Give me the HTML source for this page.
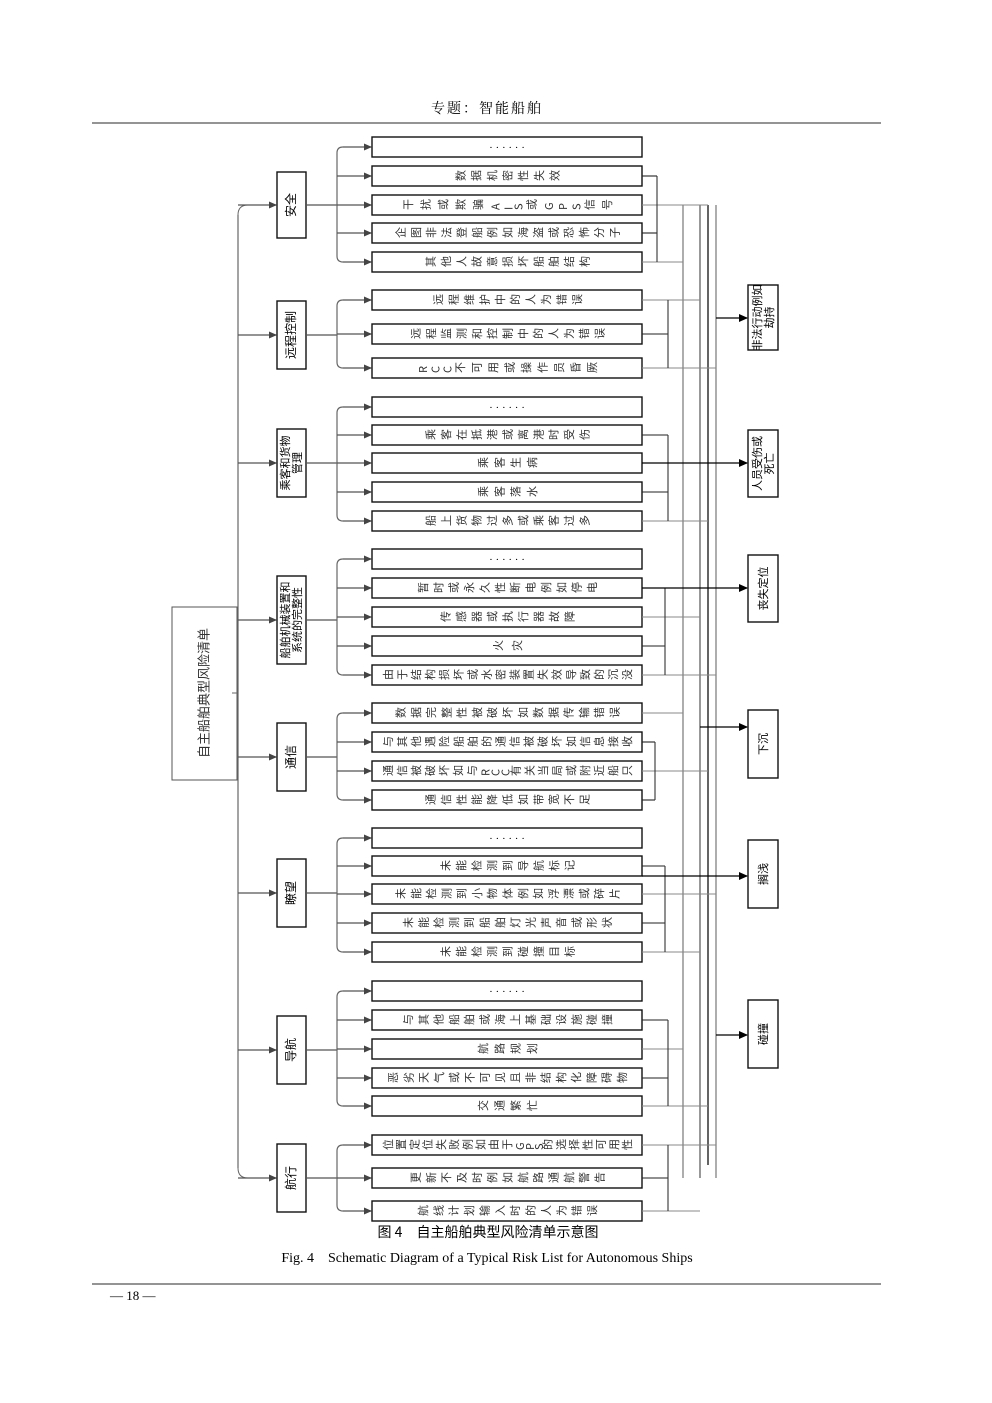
<!DOCTYPE html>
<html><head><meta charset="utf-8"><style>
html,body{margin:0;padding:0;background:#fff;}
body{width:992px;height:1403px;position:relative;overflow:hidden;font-family:"Liberation Serif","Noto Serif CJK SC",serif;}
svg{position:absolute;left:0;top:0;}
</style></head><body>
<svg id="s" width="992" height="1403" viewBox="0 0 992 1403" xmlns="http://www.w3.org/2000/svg">
<defs><marker id="a" markerWidth="8" markerHeight="8" refX="7" refY="4" orient="auto" markerUnits="userSpaceOnUse"><path d="M0,0.5 L8,4 L0,7.5z" fill="#444"/></marker>
<marker id="b" markerWidth="9" markerHeight="9" refX="8" refY="4.5" orient="auto" markerUnits="userSpaceOnUse"><path d="M0,0.5 L9,4.5 L0,8.5z" fill="#000"/></marker></defs>
<text x="487" y="113" font-size="14" text-anchor="middle" font-family="'Noto Serif CJK SC',serif" letter-spacing="2">专题：智能船舶</text>
<line x1="92" y1="123" x2="881" y2="123" stroke="#555" stroke-width="1.3"/>
<g id="g"></g>
<text x="488" y="1237" font-size="14" text-anchor="middle" font-family="'Noto Sans CJK SC',sans-serif">图 4　自主船舶典型风险清单示意图</text>
<text x="487" y="1262" font-size="14" text-anchor="middle" font-family="'Liberation Serif',serif">Fig. 4　Schematic Diagram of a Typical Risk List for Autonomous Ships</text>
<line x1="92" y1="1284" x2="881" y2="1284" stroke="#555" stroke-width="1.3"/>
<text x="110" y="1300" font-size="13" font-family="'Liberation Serif',serif">— 18 —</text>
</svg>
<script>
var g=document.getElementById('g'),h='';
function L(x1,y1,x2,y2,c,w,m){h+='<line x1="'+x1+'" y1="'+y1+'" x2="'+x2+'" y2="'+y2+'" stroke="'+(c||'#333')+'" stroke-width="'+(w||1)+'"'+(m?' marker-end="url(#'+m+')"':'')+'/>';}
function R(x,y,w,hh,c,sw){h+='<rect x="'+x+'" y="'+y+'" width="'+w+'" height="'+hh+'" fill="#fff" stroke="'+(c||'#111')+'" stroke-width="'+(sw||1.4)+'"/>';}
function VT(cx,cy,lines,fs,fam,col){var n=lines.length;for(var i=0;i<n;i++){var x=cx+(i-(n-1)/2)*(fs+1)+fs*0.35;h+='<text transform="rotate(-90 '+x+' '+cy+')" x="'+x+'" y="'+cy+'" font-size="'+fs+'" fill="'+(col||'#000')+'" text-anchor="middle" font-family="'+(fam||"'Noto Sans CJK SC',sans-serif")+'">'+lines[i]+'</text>';}}
var cats=[
["安全",[147,176,205,233,262],["· · · · · ·","数据机密性失效","干扰或欺骗AIS或GPS信号","企图非法登船例如海盗或恐怖分子","其他人故意损坏船舶结构"]],
["远程控制",[300,334,368],["远程维护中的人为错误","远程监测和控制中的人为错误","RCC不可用或操作员昏厥"]],
[["乘客和货物","管理"],[407,435,463,492,521],["· · · · · ·","乘客在抵港或离港时受伤","乘客生病","乘客落水","船上货物过多或乘客过多"]],
[["船舶机械装置和","系统的完整性"],[559,588,617,646,675],["· · · · · ·","暂时或永久性断电例如停电","传感器或执行器故障","火灾","由于结构损坏或水密装置失效导致的沉没"]],
["通信",[713,742,771,800],["数据完整性被破坏如数据传输错误","与其他遇险船舶的通信被破坏如信息接收","通信被破坏如与RCC有关当局或附近船只","通信性能降低如带宽不足"]],
["瞭望",[838,866,894,923,952],["· · · · · ·","未能检测到导航标记","未能检测到小物体例如浮漂或碎片","未能检测到船舶灯光声音或形状","未能检测到碰撞目标"]],
["导航",[991,1020,1049,1078,1106],["· · · · · ·","与其他船舶或海上基础设施碰撞","航路规划","恶劣天气或不可见且非结构化障碍物","交通繁忙"]],
["航行",[1145,1178,1211],["位置定位失败例如由于GPS的选择性可用性","更新不及时例如航路通航警告","航线计划输入时的人为错误"]]];
var cy=[205,335,463,620,757,893,1050,1178],ch=[66,68,68,88,68,68,68,68];
L(683,205,683,1178,'#777',1.2);L(700,205,700,1178,'#555',1.2);L(708,205,708,1165,'#222',1.4);L(716,205,716,1178,'#777',1.2);
R(172,607,65,173,'#555',1);VT(204,693,["自主船舶典型风险清单"],13,null,'#333');
L(238,215,238,1168,'#666',1.2);h+='<path d="M238,215 Q238,205 248,205 M238,1168 Q238,1178 248,1178 M237,693 L232,693" stroke="#666" fill="none"/>';
var loc=[657,668,668,665,655,665,668,668];
for(var k=0;k<8;k++){var c=cats[k],y=cy[k],rows=c[1];
 L(238,y,276,y,'#555',1.2,'a');R(277,y-ch[k]/2,29,ch[k]);
 VT(291,y,typeof c[0]=='string'?[c[0]]:c[0],typeof c[0]=='string'?12:11);
 L(306,y,337,y,'#555',1.2);
 var y0=rows[0],y1=rows[rows.length-1];
 L(337,y0+6,337,y1-6,'#666',1.2);
 h+='<path d="M337,'+(y0+6)+' Q337,'+y0+' 343,'+y0+' M337,'+(y1-6)+' Q337,'+y1+' 343,'+y1+'" stroke="#666" fill="none" stroke-width="1.2"/>';
 for(var j=0;j<rows.length;j++){var ry=rows[j];
  L(j==0||j==rows.length-1?343:337,ry,371,ry,'#555',1.2,'a');
  R(372,ry-10,270,20);
  var t=c[2][j],n=t.length,tl=Math.min(n*15,250);
  if(t.indexOf('·')==0) h+='<text x="507" y="'+(ry+4)+'" font-size="11" text-anchor="middle">'+t+'</text>';
  else h+='<text x="'+(507-tl/2+10)+'" y="'+(ry+5)+'" font-size="11" fill="#333" rotate="-90" textLength="'+tl+'" lengthAdjust="spacing" font-family="\'Noto Sans CJK SC\',sans-serif">'+t+'</text>';
  if(t.indexOf('·')!=0){var bx=[683,700,708,716][(k+j)%4];L(642,ry,(j%2?loc[k]:bx),ry,j%2?'#222':'#888',1.1);}
 }
 var a=rows[rows.length>3?1:0];L(loc[k],a,loc[k],y1,'#333',1.1);
}
var outs=[[285,350,"非法行动例如","劫持",318,716],[430,497,"人员受伤或","死亡",463,642],[555,622,"丧失定位","",588,642],[710,778,"下沉","",727,700],[840,908,"搁浅","",876,642],[1000,1068,"碰撞","",1035,716]];
for(var i=0;i<outs.length;i++){var o=outs[i];R(748,o[0],30,o[1]-o[0]);VT(763,(o[0]+o[1])/2,o[3]?[o[2],o[3]]:[o[2]],11);L(o[5],o[4],747,o[4],'#000',1.3,'b');}
g.innerHTML=h;
</script>
</body></html>
